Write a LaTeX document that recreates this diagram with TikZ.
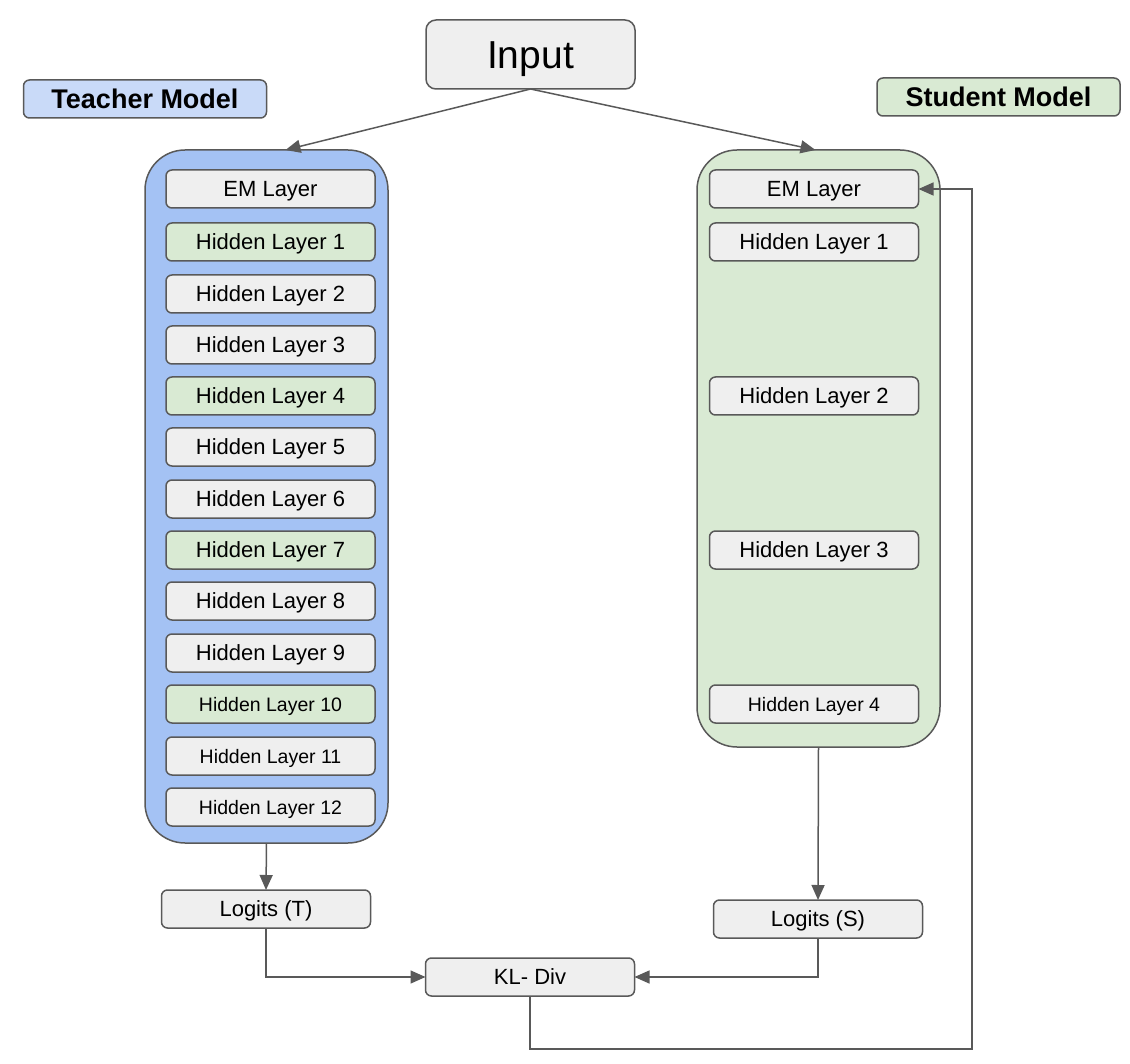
\documentclass[tikz,border=0pt]{standalone}
\usepackage{fontspec}
\setmainfont{Liberation Sans}
\usetikzlibrary{arrows.meta}
\usetikzlibrary{calc}

\definecolor{linegray}{HTML}{595959}
\definecolor{boxgray}{HTML}{EFEFEF}
\definecolor{tblue}{HTML}{A4C2F4}
\definecolor{tbluelight}{HTML}{C9DAF8}
\definecolor{sgreen}{HTML}{D9EAD3}

\begin{document}
\begin{tikzpicture}[x=1pt, y=-1pt, line width=1.5pt,
    every node/.style={inner sep=2pt,outer sep=0pt,text depth=0pt},
    layer/.style={draw=linegray, fill=boxgray, rounded corners=6pt, minimum width=209pt, minimum height=38pt, font=\fontsize{22}{26}\selectfont, text height=15.8pt},
    small/.style={font=\fontsize{19.5}{23}\selectfont, text height=14pt},
    model/.style={draw=linegray, rounded corners=40pt, minimum width=243pt},
    tag/.style={draw=linegray, rounded corners=6pt, minimum width=243pt, minimum height=38pt, font=\fontsize{27}{31}\selectfont\bfseries, text height=19.4pt},
    conn/.style={draw=linegray, -{Triangle[length=15pt,width=13pt]}}]
      \useasboundingbox (0,0) rectangle (1130,1064);

      \draw (530.5,54.5) node[layer, minimum height=69pt, rounded corners=10pt, font=\fontsize{39}{44}\selectfont, text height=28pt] (inp) {Input};
      \draw (145,99) node[tag, fill=tbluelight] (tlabel) {Teacher Model};
      \draw (998.5,97) node[tag, fill=sgreen] (slabel) {Student Model};

      \draw (266.5,496.5) node[model, fill=tblue, minimum height=693pt] (teacher) {};
      \draw (818.5,448.5) node[model, fill=sgreen, minimum height=597pt] (student) {};

      \draw (270.5,189) node[layer] (tem) {EM Layer};
      \draw (270.5,242) node[layer, fill=sgreen] (t1) {Hidden Layer 1};
      \draw (270.5,294) node[layer] (t2) {Hidden Layer 2};
      \draw (270.5,345) node[layer] (t3) {Hidden Layer 3};
      \draw (270.5,396) node[layer, fill=sgreen] (t4) {Hidden Layer 4};
      \draw (270.5,447) node[layer] (t5) {Hidden Layer 5};
      \draw (270.5,499) node[layer] (t6) {Hidden Layer 6};
      \draw (270.5,550) node[layer, fill=sgreen] (t7) {Hidden Layer 7};
      \draw (270.5,601) node[layer] (t8) {Hidden Layer 8};
      \draw (270.5,653) node[layer] (t9) {Hidden Layer 9};
      \draw (270.5,704) node[layer, small, fill=sgreen] (t10) {Hidden Layer 10};
      \draw (270.5,756) node[layer, small] (t11) {Hidden Layer 11};
      \draw (270.5,807) node[layer, small] (t12) {Hidden Layer 12};

      \draw (814,189) node[layer] (sem) {EM Layer};
      \draw (814,242) node[layer] (s1) {Hidden Layer 1};
      \draw (814,396) node[layer] (s2) {Hidden Layer 2};
      \draw (814,550) node[layer] (s3) {Hidden Layer 3};
      \draw (814,704) node[layer, small] (s4) {Hidden Layer 4};

      \draw (266,909) node[layer] (lt) {Logits (T)};
      \draw (818,919) node[layer] (ls) {Logits (S)};
      \draw (530,977) node[layer] (kl) {KL- Div};
      \coordinate (loop) at (972,1049);

      \draw[conn] (inp.south) -- ([xshift=19pt]teacher.north);
      \draw[conn] (inp.south) -- ([xshift=-3pt]student.north);

      \draw[conn] (teacher.south) -- (lt.north);
      \draw[conn] (student.south) -- (ls.north);

      \draw[conn] (lt.south) |- (kl.west);
      \draw[conn] (ls.south) |- (kl.east);

      \draw[conn] (kl.south) |- (loop) |- (sem.east);
    \end{tikzpicture}
\end{document}
